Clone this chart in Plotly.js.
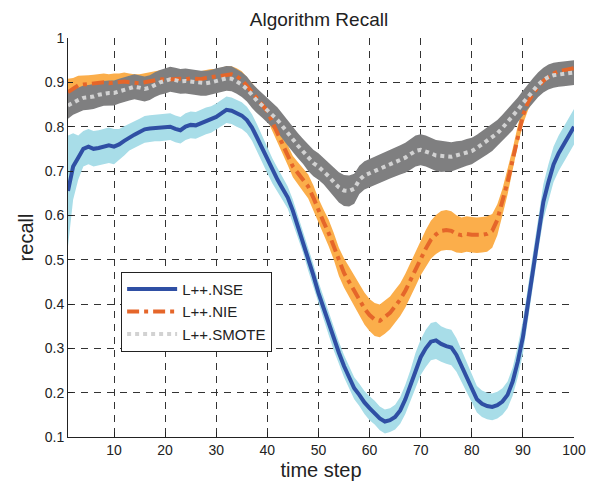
<!DOCTYPE html>
<html>
<head>
<meta charset="utf-8">
<script src="https://cdn.plot.ly/plotly-3.0.1.min.js"></script>
<style>html,body{margin:0;padding:0;background:#fff;}#chart{width:594px;height:489px;}</style>
</head>
<body>
<div id="chart"></div>
<script>
// time steps 1..100
var timeSteps = [];
for (var i = 1; i <= 100; i++) timeSteps.push(i);

var nseMean = [0.655,0.71,0.73,0.75,0.755,0.75,0.752,0.755,0.758,0.755,
  0.76,0.768,0.776,0.782,0.788,0.794,0.796,0.797,0.797,0.798,
  0.80,0.795,0.792,0.80,0.804,0.803,0.808,0.813,0.816,0.822,
  0.83,0.838,0.836,0.83,0.825,0.815,0.798,0.775,0.75,0.725,
  0.70,0.68,0.66,0.64,0.61,0.575,0.54,0.50,0.465,0.425,
  0.39,0.355,0.32,0.29,0.26,0.235,0.21,0.195,0.178,0.165,
  0.155,0.142,0.135,0.138,0.145,0.16,0.185,0.215,0.25,0.28,
  0.30,0.315,0.318,0.31,0.305,0.302,0.285,0.26,0.235,0.21,
  0.185,0.175,0.17,0.168,0.172,0.18,0.195,0.225,0.27,0.325,
  0.40,0.48,0.56,0.63,0.675,0.715,0.74,0.76,0.78,0.80];
var nseSpread = [0.125,0.075,0.05,0.04,0.04,0.04,0.04,0.04,0.04,0.04,
  0.035,0.033,0.03,0.03,0.03,0.03,0.03,0.03,0.03,0.03,
  0.03,0.03,0.03,0.03,0.03,0.03,0.03,0.03,0.03,0.03,
  0.03,0.03,0.03,0.03,0.03,0.03,0.03,0.03,0.03,0.03,
  0.028,0.027,0.026,0.025,0.025,0.025,0.025,0.025,0.025,0.025,
  0.025,0.025,0.025,0.025,0.025,0.025,0.025,0.025,0.026,0.027,
  0.027,0.027,0.027,0.027,0.028,0.03,0.033,0.036,0.04,0.04,
  0.042,0.042,0.042,0.04,0.04,0.04,0.038,0.036,0.034,0.032,
  0.03,0.03,0.03,0.03,0.03,0.03,0.03,0.032,0.035,0.038,
  0.04,0.04,0.04,0.04,0.04,0.04,0.04,0.04,0.04,0.04];

var nieMean = [0.878,0.885,0.893,0.895,0.896,0.897,0.898,0.90,0.898,0.90,
  0.90,0.902,0.90,0.898,0.898,0.90,0.902,0.905,0.907,0.906,
  0.907,0.909,0.908,0.907,0.909,0.908,0.907,0.91,0.912,0.912,
  0.915,0.918,0.918,0.914,0.905,0.892,0.878,0.865,0.85,0.835,
  0.81,0.785,0.76,0.735,0.71,0.695,0.68,0.665,0.64,0.61,
  0.585,0.56,0.53,0.495,0.47,0.45,0.43,0.41,0.39,0.375,
  0.365,0.362,0.37,0.38,0.395,0.41,0.43,0.455,0.48,0.505,
  0.525,0.545,0.557,0.565,0.567,0.565,0.558,0.555,0.558,0.556,
  0.555,0.556,0.558,0.565,0.59,0.63,0.675,0.725,0.78,0.825,
  0.855,0.875,0.89,0.903,0.912,0.92,0.925,0.928,0.93,0.932];
var nieSpread = [0.03,0.025,0.022,0.02,0.02,0.02,0.02,0.02,0.02,0.02,
  0.02,0.02,0.02,0.02,0.02,0.02,0.02,0.02,0.02,0.02,
  0.018,0.018,0.018,0.018,0.018,0.018,0.018,0.018,0.018,0.018,
  0.018,0.018,0.018,0.018,0.02,0.02,0.02,0.02,0.02,0.02,
  0.02,0.02,0.022,0.022,0.024,0.025,0.026,0.027,0.028,0.028,
  0.028,0.03,0.03,0.032,0.033,0.034,0.035,0.036,0.036,0.036,
  0.037,0.037,0.037,0.037,0.037,0.037,0.038,0.038,0.04,0.04,
  0.042,0.043,0.044,0.045,0.045,0.044,0.042,0.04,0.04,0.04,
  0.04,0.04,0.04,0.038,0.035,0.03,0.028,0.025,0.022,0.02,
  0.018,0.016,0.015,0.015,0.015,0.015,0.015,0.015,0.015,0.015];

var smoteMean = [0.848,0.855,0.86,0.865,0.866,0.868,0.872,0.875,0.876,0.876,
  0.88,0.884,0.887,0.89,0.888,0.885,0.888,0.895,0.90,0.903,
  0.907,0.905,0.902,0.903,0.902,0.90,0.898,0.898,0.90,0.904,
  0.906,0.909,0.908,0.902,0.895,0.885,0.87,0.858,0.848,0.838,
  0.826,0.815,0.80,0.785,0.77,0.757,0.744,0.73,0.718,0.71,
  0.70,0.688,0.675,0.663,0.656,0.655,0.66,0.68,0.69,0.695,
  0.70,0.705,0.71,0.715,0.72,0.725,0.73,0.738,0.745,0.748,
  0.745,0.74,0.735,0.733,0.733,0.732,0.735,0.738,0.742,0.745,
  0.752,0.76,0.767,0.775,0.785,0.797,0.81,0.822,0.838,0.853,
  0.868,0.882,0.895,0.905,0.912,0.916,0.918,0.919,0.92,0.922];
var smoteSpread = [0.03,0.028,0.028,0.028,0.028,0.028,0.028,0.028,0.028,0.028,
  0.028,0.028,0.028,0.028,0.028,0.028,0.028,0.028,0.028,0.028,
  0.028,0.028,0.028,0.028,0.028,0.028,0.028,0.028,0.028,0.028,
  0.028,0.028,0.028,0.028,0.028,0.028,0.028,0.028,0.028,0.028,
  0.028,0.028,0.028,0.028,0.028,0.028,0.028,0.03,0.03,0.03,
  0.03,0.032,0.033,0.034,0.035,0.035,0.034,0.032,0.032,0.032,
  0.032,0.032,0.032,0.032,0.032,0.033,0.034,0.035,0.035,0.035,
  0.035,0.035,0.035,0.035,0.034,0.033,0.032,0.03,0.03,0.03,
  0.03,0.03,0.03,0.03,0.03,0.03,0.03,0.03,0.028,0.028,
  0.028,0.028,0.028,0.028,0.028,0.028,0.028,0.028,0.028,0.028];

var seriesNames = ['L++.NSE', 'L++.NIE', 'L++.SMOTE'];
var xTickVals = [10,20,30,40,50,60,70,80,90,100];
var xTickText = ['10','20','30','40','50','60','70','80','90','100'];
var yTickVals = [0.1,0.2,0.3,0.4,0.5,0.6,0.7,0.8,0.9,1];
var yTickText = ['0.1','0.2','0.3','0.4','0.5','0.6','0.7','0.8','0.9','1'];

function band(mean, spread, color) {
  var xs = [], ys = [];
  for (var i = 0; i < timeSteps.length; i++) { xs.push(timeSteps[i]); ys.push(mean[i] + spread[i]); }
  for (var j = timeSteps.length - 1; j >= 0; j--) { xs.push(timeSteps[j]); ys.push(mean[j] - spread[j]); }
  return {x: xs, y: ys, type: 'scatter', mode: 'lines', fill: 'toself', fillcolor: color,
    line: {width: 0, color: color}, hoverinfo: 'skip', showlegend: false};
}

var traces = [
  band(nieMean, nieSpread, '#fbae4b'),
  band(nseMean, nseSpread, '#a8dde8'),
  band(smoteMean, smoteSpread, '#7f7f80'),
  {x: timeSteps, y: nseMean, type: 'scatter', mode: 'lines', name: seriesNames[0],
    line: {color: '#2f4fa4', width: 4}},
  {x: timeSteps, y: nieMean, type: 'scatter', mode: 'lines', name: seriesNames[1],
    line: {color: '#e5662a', width: 4, dash: '12px,5px,4px,5px'}},
  {x: timeSteps, y: smoteMean, type: 'scatter', mode: 'lines', name: seriesNames[2],
    line: {color: '#d2d2d2', width: 4, dash: '4px,4px'}}
];

var axisFont = {family: 'Liberation Sans, Arial, sans-serif', size: 14, color: '#222'};
var layout = {
  width: 594, height: 489,
  margin: {l: 68, r: 20, t: 38, b: 52},
  paper_bgcolor: '#fff', plot_bgcolor: '#fff',
  font: {family: 'Liberation Sans, Arial, sans-serif', color: '#222'},
  title: {text: 'Algorithm Recall', font: {size: 19, color: '#222'}, x: 0.537, xanchor: 'center', y: 0.975, yanchor: 'top'},
  showlegend: true,
  legend: {x: 0.105, y: 0.414, xanchor: 'left', yanchor: 'top', bgcolor: '#fff',
    bordercolor: '#222', borderwidth: 1, font: {size: 15, color: '#222'}, traceorder: 'normal',
    itemwidth: 50, tracegroupgap: 0},
  xaxis: {range: [1, 100], tickvals: xTickVals, ticktext: xTickText, tickfont: axisFont,
    showgrid: true, gridcolor: '#333', griddash: '7px,6px', gridwidth: 1,
    showline: true, linecolor: '#222', linewidth: 1, mirror: false,
    ticks: 'inside', ticklen: 5, tickcolor: '#222', zeroline: false,
    title: {text: 'time step', font: {size: 20, color: '#222'}, standoff: 6}},
  yaxis: {range: [0.1, 1], tickvals: yTickVals, ticktext: yTickText, tickfont: axisFont,
    showgrid: true, gridcolor: '#333', griddash: '7px,6px', gridwidth: 1,
    showline: true, linecolor: '#222', linewidth: 1, mirror: false,
    ticks: 'inside', ticklen: 5, tickcolor: '#222', zeroline: false,
    title: {text: 'recall', font: {size: 20, color: '#222'}, standoff: 5}}
};

Plotly.newPlot('chart', traces, layout, {displayModeBar: false, staticPlot: true});
</script>
</body>
</html>
